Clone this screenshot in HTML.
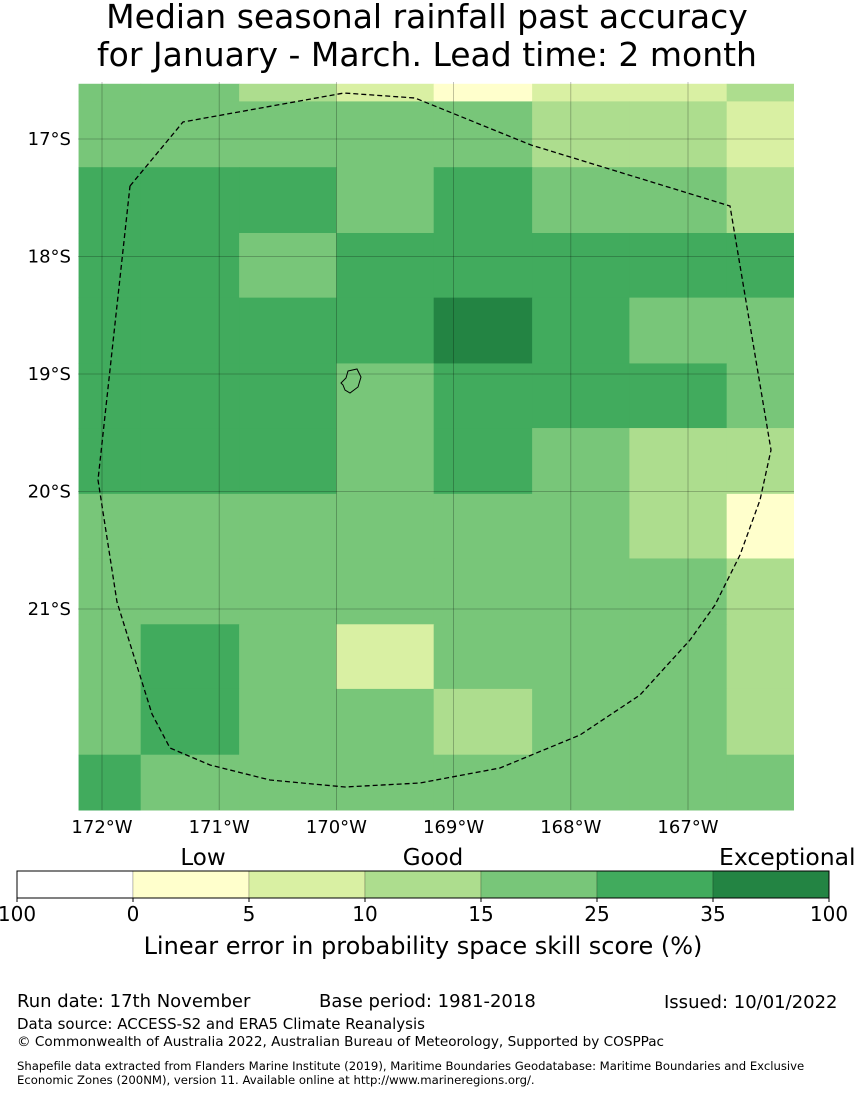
<!DOCTYPE html>
<html><head><meta charset="utf-8">
<style>
body{margin:0;background:#fff;width:855px;height:1095px;overflow:hidden;font-family:"DejaVu Sans","Liberation Sans",sans-serif;}
svg text{font-family:"DejaVu Sans","Liberation Sans",sans-serif;}
</style></head>
<body>
<svg id="chart" width="855" height="1095" xmlns="http://www.w3.org/2000/svg">
<text x="427" y="28" font-size="33" text-anchor="middle">Median seasonal rainfall past accuracy</text>
<text x="427" y="66" font-size="33" text-anchor="middle">for January - March. Lead time: 2 month</text>
<g id="cells"></g>
<g id="grid"></g>
<polygon points="348,371 357,369 361,377 358,387 350,393 345,390 343,385 341,383 346,378" fill="none" stroke="#000" stroke-width="1"/>
<polyline fill="none" stroke="#000" stroke-width="1.3" stroke-dasharray="5,3"
 points="130,186 183,122 344,93 415,98 531,145 730,206 771,450 760,500 740,555 715,605 690,640 640,695 580,735 500,768 420,783 345,787 270,780 210,765 170,748 152,714 117,602 98,480 130,186"/>
<g id="axes"></g>
<g id="cbar"></g>
<text x="203" y="865" font-size="23" text-anchor="middle">Low</text>
<text x="433" y="865" font-size="23" text-anchor="middle">Good</text>
<text x="719" y="865" font-size="23.5">Exceptional</text>
<text x="423" y="954" font-size="24" text-anchor="middle">Linear error in probability space skill score (%)</text>
<text x="17" y="1007" font-size="18">Run date: 17th November</text>
<text x="319" y="1007" font-size="18">Base period: 1981-2018</text>
<text x="664" y="1008" font-size="18">Issued: 10/01/2022</text>
<text x="17" y="1029" font-size="15">Data source: ACCESS-S2 and ERA5 Climate Reanalysis</text>
<text x="17" y="1046" font-size="13.6">© Commonwealth of Australia 2022, Australian Bureau of Meteorology, Supported by COSPPac</text>
<text x="17" y="1070" font-size="11.65">Shapefile data extracted from Flanders Marine Institute (2019), Maritime Boundaries Geodatabase: Maritime Boundaries and Exclusive</text>
<text x="17" y="1084" font-size="11.65">Economic Zones (200NM), version 11. Available online at http://www.marineregions.org/.</text>
</svg>
<script>
const colors=["#ffffff","#ffffcc","#d9f0a3","#addd8e","#78c679","#41ab5d","#238443"];
const cbTicks=["100","0","5","10","15","25","35","100"];
const lonTicks=[172,171,170,169,168,167];
const latTicks=[17,18,19,20,21];
// category index per cell, rows north->south, cols west->east
const gridVals=[
[4,4,3,2,1,2,2,3],
[4,4,4,4,4,3,3,2],
[5,5,5,4,5,4,4,3],
[5,5,4,5,5,5,5,5],
[5,5,5,5,6,5,4,4],
[5,5,5,4,5,5,5,4],
[5,5,5,4,5,4,3,3],
[4,4,4,4,4,4,3,1],
[4,4,4,4,4,4,4,3],
[4,5,4,2,4,4,4,3],
[4,5,4,4,3,4,4,3],
[5,4,4,4,4,4,4,4]];
const colEdges=[172.2,171.67,170.83,170,169.17,168.33,167.5,166.67,166.1];
const rowEdges=[16.53,16.68,17.24,17.8,18.35,18.91,19.46,20.02,20.57,21.13,21.68,22.24,22.73];
const xOf=w=>102+(172-w)*117.2;
const yOf=s=>139+(s-17)*117.5;
const NS="http://www.w3.org/2000/svg";
function mk(tag,attrs,parent){const e=document.createElementNS(NS,tag);for(const k in attrs)e.setAttribute(k,attrs[k]);parent.appendChild(e);return e;}
const cells=document.getElementById('cells');
const X0=78,X1=794,Y0=82,Y1=810;
gridVals.forEach((row,r)=>row.forEach((v,c)=>{
 const x0=Math.max(X0,xOf(colEdges[c])),x1=Math.min(X1,xOf(colEdges[c+1]));
 const y0=Math.max(Y0,yOf(rowEdges[r])),y1=Math.min(Y1,yOf(rowEdges[r+1]));
 const rc=mk('rect',{x:x0,y:y0,width:x1-x0+0.5,height:y1-y0+0.5,fill:colors[v]},cells);
 
 
}));
const grid=document.getElementById('grid'),axes=document.getElementById('axes');
lonTicks.forEach(l=>{const x=xOf(l);
 const ln=mk('line',{x1:x,x2:x,y1:Y0,y2:Y1,stroke:'#000','stroke-opacity':0.3,'stroke-width':0.8},grid);
 
 
 const t=mk('text',{x:x,y:833,'font-size':18,'text-anchor':'middle'},axes);t.textContent=l+'°W';
 
 });
latTicks.forEach(l=>{const y=yOf(l);
 const ln=mk('line',{x1:X0,x2:X1,y1:y,y2:y,stroke:'#000','stroke-opacity':0.3,'stroke-width':0.8},grid);
 
 
 const t=mk('text',{x:71,y:y+6,'font-size':18,'text-anchor':'end'},axes);t.textContent=l+'°S';
 
 });
const cb=document.getElementById('cbar');const cx0=17,cw=116,cy=871,ch=27;
colors.forEach((c,i)=>{const r=mk('rect',{x:cx0+i*cw,y:cy,width:cw,height:ch,fill:c,stroke:'#000','stroke-opacity':0.25,'stroke-width':0.8},cb);
 
 });
mk('rect',{x:cx0,y:cy,width:cw*7,height:ch,fill:'none',stroke:'#000','stroke-width':1},cb);
cbTicks.forEach((t,i)=>{const x=cx0+i*cw;
 mk('line',{x1:x,x2:x,y1:cy+ch,y2:cy+ch+4,stroke:'#000'},cb);
 const e=mk('text',{x:x,y:921,'font-size':20,'text-anchor':'middle'},cb);e.textContent=t;
 
 });
</script>
</body></html>
